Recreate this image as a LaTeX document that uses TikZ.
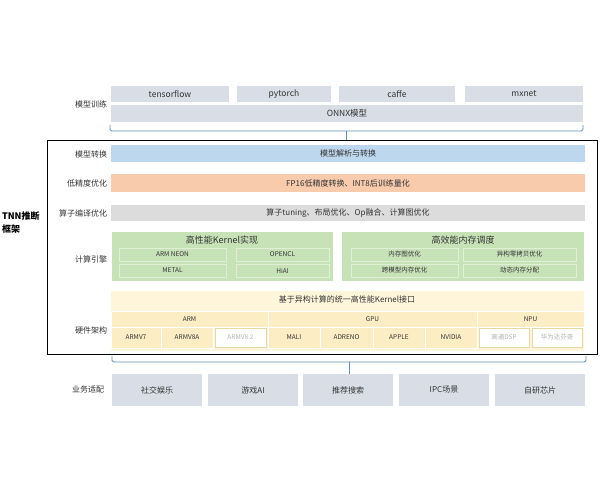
\documentclass[tikz,border=0pt]{standalone}
\usepackage{fontspec}
\setmainfont{Noto Sans CJK SC}
\definecolor{topgray}{HTML}{D9DEE6}
\definecolor{convblue}{HTML}{BDD7EE}
\definecolor{loworange}{HTML}{F8CBAD}
\definecolor{optgray}{HTML}{DCDCDC}
\definecolor{enggreen}{HTML}{C8E2B8}
\definecolor{subgreen}{HTML}{E0EFD6}
\definecolor{hwbg}{HTML}{FFF5DA}
\definecolor{hwcell}{HTML}{FDEDC4}
\definecolor{hwline}{HTML}{E3DAA8}
\definecolor{bracecol}{HTML}{5E8FB8}
\definecolor{txt}{HTML}{333333}
\newcommand{\blk}[7]{%
  \node[#2, minimum width={(#5-#3)*1pt}, minimum height={(#6-#4)*1pt}] (#1)
    at ({(#3+#5)/2},{(#4+#6)/2}) {#7};}
\tikzset{
  base/.style={inner sep=0pt, outer sep=0pt, text=txt, font=\fontsize{8.5}{9}\selectfont},
  graybar/.style={base, fill=topgray},
  layer/.style={base, font=\fontsize{8}{9}\selectfont},
  sidelabel/.style={base, anchor=east, font=\fontsize{8}{9}\selectfont},
  enginebox/.style={base, fill=enggreen},
  subbox/.style={base, fill=enggreen, draw=subgreen, line width=0.8pt, font=\fontsize{6.5}{7}\selectfont},
  hwcellbox/.style={base, fill=hwcell, draw=white, line width=0.8pt, font=\fontsize{6.5}{7}\selectfont},
  hwoff/.style={base, fill=white, draw=hwline, line width=0.6pt, text=gray!60, font=\fontsize{6.5}{7}\selectfont},
  appbox/.style={base, fill=topgray, font=\fontsize{8}{9}\selectfont},
  bracket/.style={bracecol, line width=0.8pt, rounded corners=1.5pt}
}
\begin{document}
\begin{tikzpicture}[x=1pt,y=-1pt]
\useasboundingbox (0,0) rectangle (600,480);

% training
\node[sidelabel] (trainlbl) at (107,104) {模型训练};
\blk{tf}{graybar}{111}{86}{229}{102}{tensorflow}
\blk{pt}{graybar}{237}{86}{331}{102}{pytorch}
\blk{cf}{graybar}{339}{86}{455}{102}{caffe}
\blk{mx}{graybar}{465}{86}{583}{102}{mxnet}
\blk{onnx}{graybar}{111}{105}{583}{122}{ONNX模型}

% TNN frame
\blk{frame}{draw=black, line width=1pt}{47}{140}{597}{354}{}
\node[base, anchor=west, align=left, font=\fontsize{9}{13}\selectfont\bfseries, text=black] (tnn) at (2,223) {TNN推断\\框架};

\coordinate (brace1) at (346,131);
\draw[bracket] (110,125) -- (110,131) -- (583,131) -- (583,125);
\draw[bracecol, line width=0.8pt] (brace1) -- (brace1 |- frame.north);

\node[sidelabel] (convlbl) at (107,154) {模型转换};
\blk{conv}{layer, fill=convblue}{111}{145}{585}{162}{模型解析与转换}
\node[sidelabel] (lowlbl) at (107,183) {低精度优化};
\blk{low}{layer, fill=loworange}{111}{174}{585}{192}{FP16低精度转换、INT8后训练量化}
\node[sidelabel] (optlbl) at (107,213) {算子编译优化};
\blk{opt}{layer, fill=optgray}{111}{205}{585}{221}{算子tuning、布局优化、Op融合、计算图优化}

% engine
\node[sidelabel] (englbl) at (107,259) {计算引擎};
\blk{kern}{enginebox}{112}{232}{333}{281}{}
\node[base, font=\fontsize{9}{10}\selectfont] (kerntitle) at (222,240) {高性能Kernel实现};
\blk{neon}{subbox}{119}{248}{226}{261}{ARM NEON}
\blk{ocl}{subbox}{236}{248}{329}{261}{OPENCL}
\blk{metal}{subbox}{119}{264}{226}{277}{METAL}
\blk{hiai}{subbox}{236}{264}{329}{277}{HiAI}
\blk{mem}{enginebox}{342}{232}{584}{281}{}
\node[base, font=\fontsize{9}{10}\selectfont] (memtitle) at (463,240) {高效能内存调度};
\blk{mgraph}{subbox}{351}{248}{458}{261}{内存图优化}
\blk{mzero}{subbox}{463}{248}{576}{261}{异构零拷贝优化}
\blk{mcross}{subbox}{351}{264}{458}{277}{跨模型内存优化}
\blk{mdyn}{subbox}{463}{264}{576}{277}{动态内存分配}

% hardware
\node[sidelabel] (hwlbl) at (107,330) {硬件架构};
\blk{hw}{base, fill=hwbg}{111}{291}{584}{351}{}
\node[base, font=\fontsize{8}{9}\selectfont] (hwtitle) at (347,299) {基于异构计算的统一高性能Kernel接口};
\blk{arm}{hwcellbox}{111}{311}{268}{327}{ARM}
\blk{gpu}{hwcellbox}{268}{311}{477}{327}{GPU}
\blk{npu}{hwcellbox}{477}{311}{584}{327}{NPU}
\blk{v7}{hwcellbox}{111}{327}{161}{348}{ARMV7}
\blk{v8a}{hwcellbox}{161}{327}{213}{348}{ARMV8A}
\blk{v82}{hwoff}{215}{328}{266}{347}{ARMV8.2}
\blk{mali}{hwcellbox}{268}{327}{320}{348}{MALI}
\blk{adreno}{hwcellbox}{320}{327}{373}{348}{ADRENO}
\blk{apple}{hwcellbox}{373}{327}{425}{348}{APPLE}
\blk{nvidia}{hwcellbox}{425}{327}{477}{348}{NVIDIA}
\blk{dsp}{hwoff}{479}{328}{529}{347}{高通DSP}
\blk{davinci}{hwoff}{532}{328}{582}{347}{华为达芬奇}

% applications
\node[sidelabel] (applbl) at (104,389) {业务适配};
\blk{social}{appbox}{112}{374}{202}{406}{社交娱乐}
\blk{game}{appbox}{208}{374}{298}{406}{游戏AI}
\blk{rec}{appbox}{303}{374}{393}{406}{推荐搜索}
\blk{ipc}{appbox}{399}{374}{489}{406}{IPC场景}
\blk{chip}{appbox}{495}{374}{585}{406}{自研芯片}

\coordinate (brace2) at (349,362);
\draw[bracket] (112,356) -- (112,362) -- (586,362) -- (586,356);
\draw[bracecol, line width=0.8pt] (brace2) -- (brace2 |- rec.north);
\end{tikzpicture}
\end{document}
